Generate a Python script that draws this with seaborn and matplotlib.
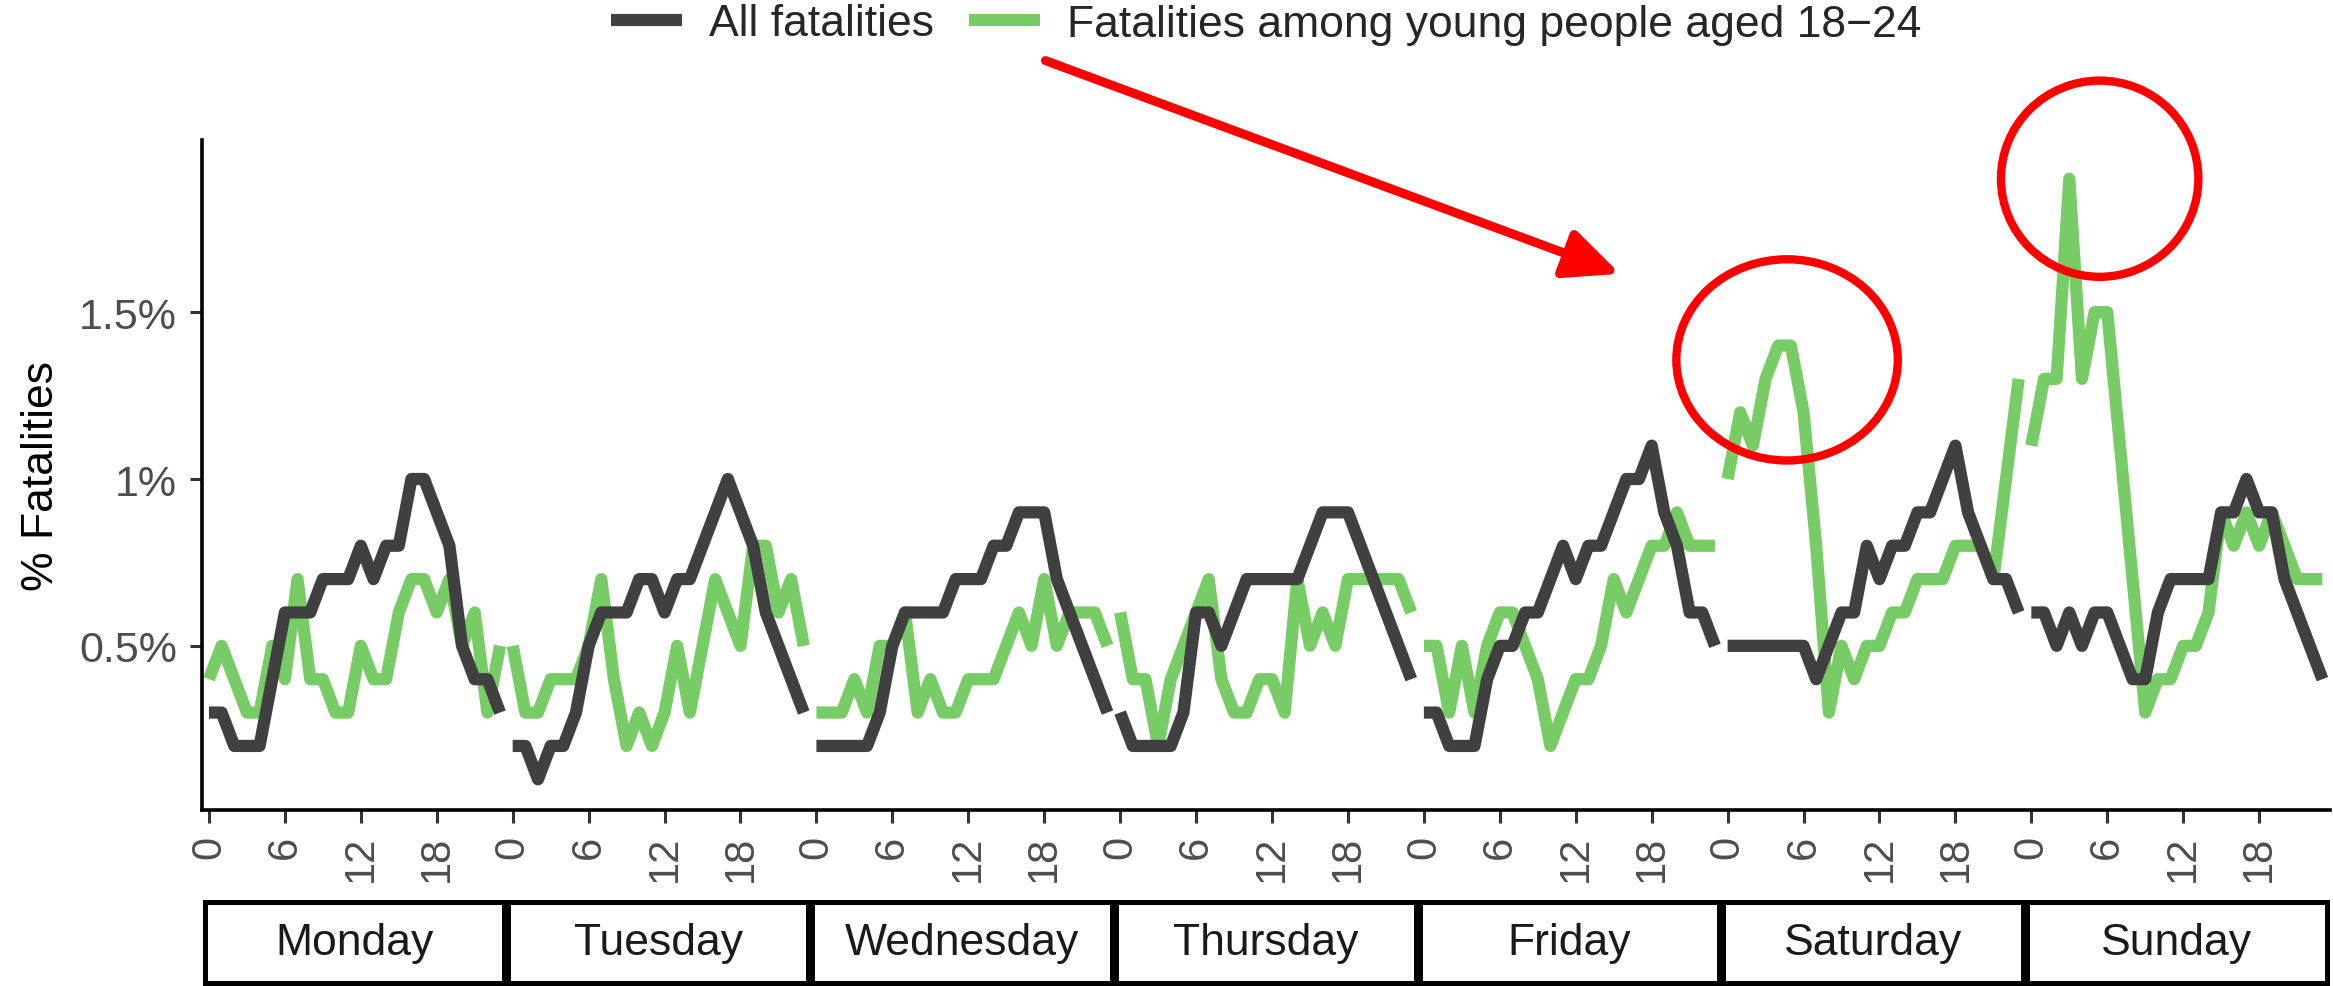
import numpy as np
import pandas as pd
import matplotlib
matplotlib.use('Agg')
import matplotlib.pyplot as plt
from matplotlib.lines import Line2D
from matplotlib.patches import Ellipse, Rectangle
import seaborn as sns

days = ['Monday', 'Tuesday', 'Wednesday', 'Thursday', 'Friday', 'Saturday', 'Sunday']
hours = list(range(24))
hour_ticks = [0, 6, 12, 18]

# % of fatalities per hour, one row per day (Monday -> Sunday)
all_fatalities = [
    0.3, 0.3, 0.2, 0.2, 0.2, 0.4, 0.6, 0.6, 0.6, 0.7, 0.7, 0.7, 0.8, 0.7, 0.8, 0.8, 1.0, 1.0, 0.9, 0.8, 0.5, 0.4, 0.4, 0.3,
    0.2, 0.2, 0.1, 0.2, 0.2, 0.3, 0.5, 0.6, 0.6, 0.6, 0.7, 0.7, 0.6, 0.7, 0.7, 0.8, 0.9, 1.0, 0.9, 0.8, 0.6, 0.5, 0.4, 0.3,
    0.2, 0.2, 0.2, 0.2, 0.2, 0.3, 0.5, 0.6, 0.6, 0.6, 0.6, 0.7, 0.7, 0.7, 0.8, 0.8, 0.9, 0.9, 0.9, 0.7, 0.6, 0.5, 0.4, 0.3,
    0.3, 0.2, 0.2, 0.2, 0.2, 0.3, 0.6, 0.6, 0.5, 0.6, 0.7, 0.7, 0.7, 0.7, 0.7, 0.8, 0.9, 0.9, 0.9, 0.8, 0.7, 0.6, 0.5, 0.4,
    0.3, 0.3, 0.2, 0.2, 0.2, 0.4, 0.5, 0.5, 0.6, 0.6, 0.7, 0.8, 0.7, 0.8, 0.8, 0.9, 1.0, 1.0, 1.1, 0.9, 0.8, 0.6, 0.6, 0.5,
    0.5, 0.5, 0.5, 0.5, 0.5, 0.5, 0.5, 0.4, 0.5, 0.6, 0.6, 0.8, 0.7, 0.8, 0.8, 0.9, 0.9, 1.0, 1.1, 0.9, 0.8, 0.7, 0.7, 0.6,
    0.6, 0.6, 0.5, 0.6, 0.5, 0.6, 0.6, 0.5, 0.4, 0.4, 0.6, 0.7, 0.7, 0.7, 0.7, 0.9, 0.9, 1.0, 0.9, 0.9, 0.7, 0.6, 0.5, 0.4,
]

young_fatalities = [
    0.4, 0.5, 0.4, 0.3, 0.3, 0.5, 0.4, 0.7, 0.4, 0.4, 0.3, 0.3, 0.5, 0.4, 0.4, 0.6, 0.7, 0.7, 0.6, 0.7, 0.5, 0.6, 0.3, 0.5,
    0.5, 0.3, 0.3, 0.4, 0.4, 0.4, 0.5, 0.7, 0.4, 0.2, 0.3, 0.2, 0.3, 0.5, 0.3, 0.5, 0.7, 0.6, 0.5, 0.8, 0.8, 0.6, 0.7, 0.5,
    0.3, 0.3, 0.3, 0.4, 0.3, 0.5, 0.5, 0.6, 0.3, 0.4, 0.3, 0.3, 0.4, 0.4, 0.4, 0.5, 0.6, 0.5, 0.7, 0.5, 0.6, 0.6, 0.6, 0.5,
    0.6, 0.4, 0.4, 0.2, 0.4, 0.5, 0.6, 0.7, 0.4, 0.3, 0.3, 0.4, 0.4, 0.3, 0.7, 0.5, 0.6, 0.5, 0.7, 0.7, 0.7, 0.7, 0.7, 0.6,
    0.5, 0.5, 0.3, 0.5, 0.3, 0.5, 0.6, 0.6, 0.5, 0.4, 0.2, 0.3, 0.4, 0.4, 0.5, 0.7, 0.6, 0.7, 0.8, 0.8, 0.9, 0.8, 0.8, 0.8,
    1.0, 1.2, 1.1, 1.3, 1.4, 1.4, 1.2, 0.8, 0.3, 0.5, 0.4, 0.5, 0.5, 0.6, 0.6, 0.7, 0.7, 0.7, 0.8, 0.8, 0.8, 0.7, 1.0, 1.3,
    1.1, 1.3, 1.3, 1.9, 1.3, 1.5, 1.5, 1.1, 0.7, 0.3, 0.4, 0.4, 0.5, 0.5, 0.6, 0.9, 0.8, 0.9, 0.8, 0.9, 0.8, 0.7, 0.7, 0.7,
]

y_ticks = [0.5, 1.0, 1.5]
label_all = 'All fatalities'
label_young = 'Fatalities among young people aged 18\u221224'

col_all = '#404040'
col_young = '#78CC66'

# long table: one row per hour of the week
day_col = [d for d in days for h in hours]
hour_col = [h for d in days for h in hours]
x_col = [i * 24 + h for i in range(len(days)) for h in hours]
df = pd.DataFrame({'x': x_col, 'hour': hour_col, 'day': day_col,
                   'all': all_fatalities, 'young': young_fatalities})

sns.set_theme(style='ticks')
plt.rcParams['font.family'] = ['Liberation Sans', 'DejaVu Sans']

W, H = 2333, 987
fig = plt.figure(figsize=(W / 100, H / 100), dpi=100)
ax = fig.add_axes([202 / W, 1 - 811 / H, 2128 / W, 670 / H])

lw = 8.8
sns.lineplot(data=df, x='x', y='young', units='day', estimator=None,
             color=col_young, lw=lw, ax=ax, legend=False)
sns.lineplot(data=df, x='x', y='all', units='day', estimator=None,
             color=col_all, lw=lw, ax=ax, legend=False)
for ln in ax.lines:
    ln.set_solid_capstyle('butt')
    ln.set_solid_joinstyle('round')

ax.set_xlim(-0.55, 167.6)
ax.set_ylim(0.008, 2.016)
sns.despine(ax=ax)
for s in ['left', 'bottom']:
    ax.spines[s].set_linewidth(2.6)
    ax.spines[s].set_color('black')

xt = [i * 24 + h for i in range(len(days)) for h in hour_ticks]
ax.set_xticks(xt)
ax.set_xticklabels([str(h) for i in range(len(days)) for h in hour_ticks],
                   rotation=90, fontsize=30, color='#4D4D4D')
ax.set_yticks(y_ticks)
ax.set_yticklabels([f'{v:g}%' for v in y_ticks], fontsize=31, color='#4D4D4D')
ax.tick_params(axis='both', length=9, width=2.2, color='#333333')
ax.tick_params(axis='x', pad=9)
ax.tick_params(axis='y', pad=9)
ax.set_xlabel('')
ax.set_ylabel('% Fatalities', fontsize=32, color='black')
ax.yaxis.set_label_coords(-0.066, 0.5)

# red annotations
ax.annotate('', xy=(111.5, 1.615), xytext=(66.1, 2.254),
            arrowprops=dict(arrowstyle='-|>,head_length=1.1,head_width=0.5',
                            color='red', lw=6.5, mutation_scale=30,
                            shrinkA=0, shrinkB=0),
            annotation_clip=False)
ax.add_patch(Ellipse((124.7, 1.357), 17.5, 0.603, fill=False, ec='red',
                     lw=6, clip_on=False, zorder=5))
ax.add_patch(Ellipse((149.4, 1.90), 15.6, 0.588, fill=False, ec='red',
                     lw=6, clip_on=False, zorder=5))

# legend on top
handles = [Line2D([], [], color=col_all, lw=lw, solid_capstyle='butt'),
           Line2D([], [], color=col_young, lw=lw, solid_capstyle='butt')]
fig.legend(handles, [label_all, label_young], loc='center',
           bbox_to_anchor=((202 + 2128 / 2) / W, 1 - 25 / H), ncol=2,
           frameon=False, fontsize=32, handlelength=1.6, handletextpad=0.6,
           columnspacing=0.8)

# day strip below the hour axis
ax_s = fig.add_axes([202 / W, 1 - 984 / H, 2128 / W, 81 / H])
ax_s.set_xlim(ax.get_xlim())
ax_s.set_ylim(0, 1)
ax_s.axis('off')
inset = 0.16
for i, d in enumerate(days):
    ax_s.add_patch(Rectangle((i * 24 - 0.5 + inset, 0), 24 - 2 * inset, 1,
                             fill=True, fc='white', ec='black', lw=3.6,
                             clip_on=False))
    ax_s.text(i * 24 + 11.5, 0.5, d, ha='center', va='center',
              fontsize=32, color='#1A1A1A')

fig.savefig('out.png', dpi=100)
